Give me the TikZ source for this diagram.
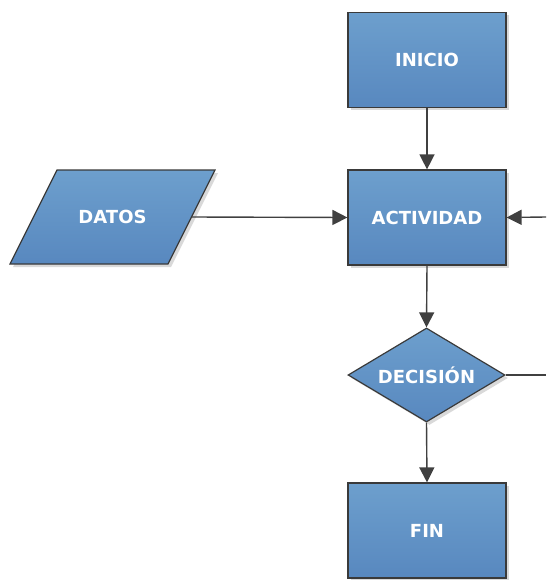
\documentclass[tikz,border=0pt]{standalone}
\usepackage{fontspec}
\setmainfont{DejaVu Sans}
\usetikzlibrary{arrows.meta,shapes.geometric,shadows}
\definecolor{boxtop}{HTML}{6D9FCD}
\definecolor{boxbot}{HTML}{5888BF}
\definecolor{edge}{HTML}{3A3A3A}
\definecolor{wire}{HTML}{404040}
\tikzset{
  shade box/.style={draw=edge, line width=1.2pt, top color=boxtop, bottom color=boxbot,
    drop shadow={shadow xshift=3pt, shadow yshift=-3pt, opacity=0.15, fill=black}},
  stepbox/.style={shade box, rectangle, minimum width=158pt, minimum height=95pt, inner sep=0pt},
  choice/.style={shade box, diamond, minimum width=157pt, minimum height=94pt, inner sep=0pt, aspect=1.67},
  label text/.style={text=white, font=\bfseries\fontsize{18}{20}\selectfont},
  wire line/.style={draw=wire, line width=1.4pt},
  wire arrow/.style={wire line, -{Triangle[length=15pt,width=15pt]}}
}
\begin{document}
\begin{tikzpicture}[x=1pt,y=-1pt]
\useasboundingbox (0,0) rectangle (546,580);

\node[stepbox, label text] (inicio) at (427,60) {INICIO};
\node[stepbox, label text] (act) at (427,217.5) {ACTIVIDAD};
\node[choice, label text] (dec) at (426.5,375) {DECISIÓN};
\node[stepbox, label text] (fin) at (427,530.5) {FIN};

% input parallelogram
\path[shade box] (10,264) -- (57,170) -- (215,170) -- (168,264) -- cycle;
\node[label text] (datos) at (112.5,217) {DATOS};
\coordinate (datosE) at (191.5,217);

\coordinate (inR) at (546,217);
\coordinate (outR) at (546,375);

\draw[wire arrow] (inicio.south) -- (act.north);
\draw[wire arrow] (datosE) -- (act.west);
\draw[wire arrow] (inR) -- (act.east);
\draw[wire arrow] (act.south) -- (dec.north);
\draw[wire arrow] (dec.south) -- (fin.north);
\draw[wire line] (dec.east) -- (outR);
\end{tikzpicture}
\end{document}
